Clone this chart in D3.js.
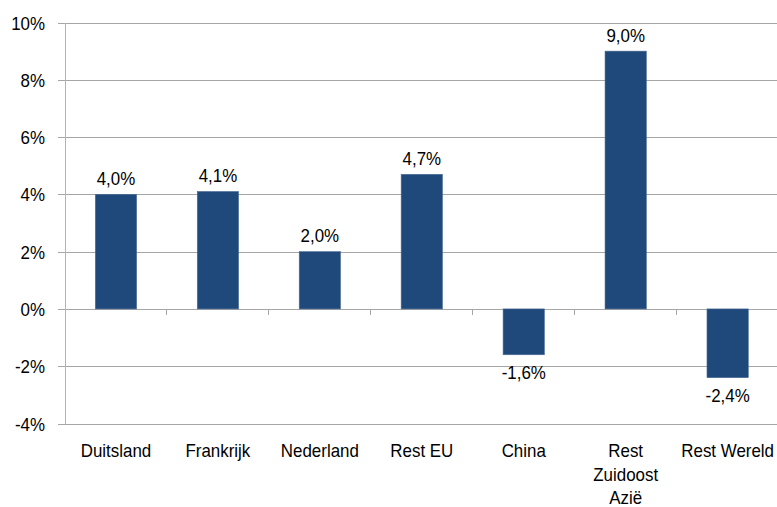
<!DOCTYPE html>
<html>
<head>
<meta charset="utf-8">
<script src="https://cdn.jsdelivr.net/npm/d3@7"></script>
<style>
  html, body { margin: 0; padding: 0; background: #fff; }
  svg { display: block; font-family: "Liberation Sans", Arial, sans-serif; }
</style>
</head>
<body>
<svg id="chart" width="777" height="507"></svg>
<script>
// Growth per export region
const categories = ["Duitsland", "Frankrijk", "Nederland", "Rest EU", "China", "Rest Zuidoost Azië", "Rest Wereld"];
const categoryLines = [["Duitsland"], ["Frankrijk"], ["Nederland"], ["Rest EU"], ["China"], ["Rest", "Zuidoost", "Azië"], ["Rest Wereld"]];
const values = [4.0, 4.1, 2.0, 4.7, -1.6, 9.0, -2.4];
const yTicks = [-4, -2, 0, 2, 4, 6, 8, 10];

const svg = d3.select("#chart");
const margin = { left: 65, right: -1.6, top: 22.5, bottom: 83.5 };
const W = 777, H = 507;
const FS = 18;      // label font size
const SX = 0.94;    // slight horizontal condensing of the label font

const x = d3.scaleBand()
  .domain(categories)
  .range([margin.left, W - margin.right])
  .paddingInner(0.595)
  .paddingOuter(0.2975);

const y = d3.scaleLinear()
  .domain([-4, 10])
  .range([H - margin.bottom, margin.top]);

const fmt = v => (v < 0 ? "-" : "") + d3.format(".1f")(Math.abs(v)).replace(".", ",") + "%";
const fmtTick = v => (v < 0 ? "-" : "") + Math.abs(v) + "%";

// places a condensed text at (px, py)
function label(g, px, py, txt, anchor) {
  return g.append("text")
    .attr("transform", `translate(${px},${py}) scale(${SX},1)`)
    .attr("text-anchor", anchor)
    .attr("font-size", FS)
    .attr("fill", "#000")
    .text(txt);
}

// horizontal gridlines with short ticks to the left of the axis
const yAxis = d3.axisLeft(y)
  .tickValues(yTicks)
  .tickFormat(fmtTick)
  .tickSize(-(W - margin.left - margin.right))
  .tickSizeOuter(0);

const gy = svg.append("g")
  .attr("transform", `translate(${margin.left},0)`)
  .call(yAxis);
gy.select(".domain").remove();
gy.selectAll(".tick line")
  .attr("x1", -7)
  .attr("stroke", "#a6a6a6")
  .attr("shape-rendering", "crispEdges");
gy.selectAll(".tick text").remove();
gy.selectAll(".tick").each(function (d) {
  label(d3.select(this), -20, 6.5, fmtTick(d), "end");
});

// vertical axis line
svg.append("line")
  .attr("x1", margin.left).attr("x2", margin.left)
  .attr("y1", y(10)).attr("y2", y(-4))
  .attr("stroke", "#b3b3b3")
  .attr("shape-rendering", "crispEdges");

// bars
svg.append("g").selectAll("rect")
  .data(values)
  .join("rect")
  .attr("x", (d, i) => x(categories[i]))
  .attr("width", x.bandwidth())
  .attr("y", d => y(Math.max(0, d)))
  .attr("height", d => Math.abs(y(d) - y(0)))
  .attr("fill", "#1f487b")
  .attr("stroke", "#4a6c96")
  .attr("stroke-width", 0.6);

// category separator ticks below the zero line
const step = x.step();
svg.append("g").selectAll("line")
  .data(categories.slice(1))
  .join("line")
  .attr("x1", d => x(d) - x.paddingInner() * step / 2)
  .attr("x2", d => x(d) - x.paddingInner() * step / 2)
  .attr("y1", y(0))
  .attr("y2", y(0) + 6)
  .attr("stroke", "#a6a6a6")
  .attr("shape-rendering", "crispEdges");

// value labels
const gv = svg.append("g");
values.forEach((d, i) => {
  const cx = x(categories[i]) + x.bandwidth() / 2;
  label(gv, cx, d >= 0 ? y(d) - 9.5 : y(d) + 24, fmt(d), "middle");
});

// category labels
const gc = svg.append("g");
categories.forEach((c, i) => {
  const cx = x(c) + x.bandwidth() / 2;
  categoryLines[i].forEach((t, j) => label(gc, cx, 457 + j * 23.5, t, "middle"));
});
</script>
</body>
</html>
